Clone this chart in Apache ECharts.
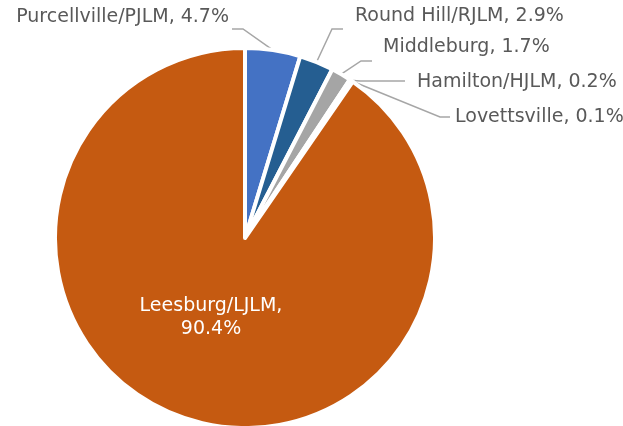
<!DOCTYPE html>
<html>
<head>
<meta charset="utf-8">
<script src="https://cdn.jsdelivr.net/npm/echarts@6/dist/echarts.min.js"></script>
<style>
  html, body { margin: 0; padding: 0; background: #fff; }
  #chart { width: 623px; height: 426px; }
</style>
</head>
<body>
<div id="chart"></div>
<script>
// 数据
const towns = ['Purcellville/PJLM', 'Round Hill/RJLM', 'Middleburg', 'Hamilton/HJLM', 'Lovettsville', 'Leesburg/LJLM'];
const shares = [4.7, 2.9, 1.7, 0.2, 0.1, 90.4];
const colors = ['#4472C4', '#255E91', '#A5A5A5', '#FFC000', '#5B9BD5', '#C55A11'];

// 标签位置 (x, y, 对齐, 折线拐点)
const labelSpots = [
    { x: 229, y: 17, align: 'right', bend: [243, 29], end: [232, 29] },
    { x: 355, y: 16, align: 'left', bend: [332, 29], end: [343, 29] },
    { x: 383, y: 47, align: 'left', bend: [361, 61], end: [372, 61] },
    { x: 417, y: 82, align: 'left', bend: [360, 81], end: [405, 81] },
    { x: 455, y: 117, align: 'left', bend: [440, 117], end: [450, 117] },
    { x: 211, y: 318, align: 'center' }
];

const FONT = 'DejaVu Sans';
const chart = echarts.init(document.getElementById('chart'));

chart.setOption({
    backgroundColor: '#fff',
    animation: false,
    series: [{
        type: 'pie',
        center: [245, 238],
        radius: 190,
        startAngle: 90,
        clockwise: true,
        avoidLabelOverlap: false,
        itemStyle: { borderColor: '#fff', borderWidth: 4 },
        label: {
            show: true,
            color: '#595959',
            fontFamily: FONT,
            fontSize: 19,
            formatter: p => p.name + ', ' + p.value.toFixed(1) + '%'
        },
        labelLine: {
            show: true,
            lineStyle: { color: '#A6A6A6', width: 1.5 }
        },
        labelLayout: params => {
            const s = labelSpots[params.dataIndex];
            const out = { x: s.x, y: s.y, align: s.align, verticalAlign: 'middle' };
            if (s.bend && params.labelLinePoints) {
                out.labelLinePoints = [params.labelLinePoints[0], s.bend, s.end];
            }
            return out;
        },
        data: towns.map((name, i) => {
            const item = { name, value: shares[i], itemStyle: { color: colors[i] } };
            if (i === towns.length - 1) {
                item.label = {
                    position: 'inside',
                    color: '#fff',
                    fontFamily: FONT,
                    fontSize: 19,
                    lineHeight: 23,
                    align: 'center',
                    formatter: p => p.name + ',\n' + p.value.toFixed(1) + '%'
                };
                item.labelLine = { show: false };
            }
            return item;
        })
    }]
});
</script>
</body>
</html>
